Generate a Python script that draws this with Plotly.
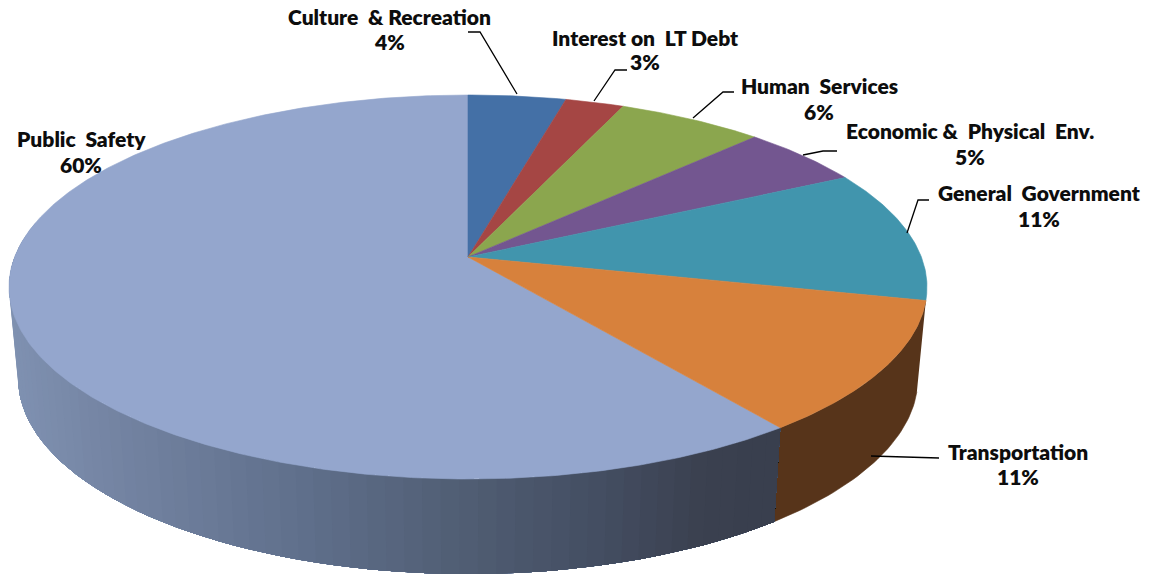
import numpy as np
import plotly.graph_objects as go

# ---- data ----
categories = ["Culture  &amp; Recreation", "Interest on  LT Debt", "Human  Services",
              "Economic &amp;  Physical  Env.", "General  Government", "Transportation", "Public  Safety"]
values = [4.0, 2.4, 6.0, 5.1, 11.1, 11.1, 60.3]
pct_labels = ["4%", "3%", "6%", "5%", "11%", "11%", "60%"]
top_colors = ["#4470a6", "#a54644", "#8ba64e", "#735690", "#4195ad", "#d7813c", "#94a6cd"]
transport_wall = "#57341a"
wall_stops_x = [10, 100, 300, 470, 600, 700, 780]
wall_stops_r = [128, 118, 96, 80, 68, 59, 57]
wall_stops_g = [146, 134, 112, 93, 78, 65, 63]
wall_stops_b = [178, 165, 140, 115, 98, 80, 78]

# ---- geometry of the perspective disc ----
K = 0.1563
TOP = dict(cx=468, cy=287, rx=459, ry=192)
BOT = dict(cx=468, cy=378, rx=450, ry=196)


def project(theta_deg, e):
    t = np.radians(theta_deg)
    u, v = np.sin(t), np.cos(t)
    d = 1 + K * v
    s = 1 - K ** 2
    return (e["cx"] + e["rx"] * np.sqrt(s) * u / d,
            e["cy"] - e["ry"] * K - e["ry"] * s * v / d)


cum = np.concatenate([[0], np.cumsum(values)]) / sum(values) * 360
fig = go.Figure()


def poly(x, y, color, lw=0.6):
    fig.add_trace(go.Scatter(x=x, y=y, mode="lines", fill="toself", fillcolor=color,
                             line=dict(color=color, width=lw), hoverinfo="skip", showlegend=False))


# side wall of Transportation
th = np.linspace(cum[5], cum[6], 40)
tx, ty = project(th, TOP)
bx, by = project(th, BOT)
poly(np.r_[tx, bx[::-1]], np.r_[ty, by[::-1]], transport_wall)

# side wall of Public Safety: overlapping shapes painted far end first, so bands have no seams
edges = np.arange(cum[6], 282, 2.0)
for k in range(len(edges) - 1, 0, -1):
    th = np.linspace(edges[0], edges[k], max(k + 1, 2))
    tx, ty = project(th, TOP)
    bx, by = project(th, BOT)
    mid = (tx[-2:].mean() + bx[-2:].mean()) / 2
    col = "rgb(%d,%d,%d)" % (np.interp(mid, wall_stops_x, wall_stops_r),
                             np.interp(mid, wall_stops_x, wall_stops_g),
                             np.interp(mid, wall_stops_x, wall_stops_b))
    poly(np.r_[tx, bx[::-1]], np.r_[ty, by[::-1]], col, lw=0)

# top face slices
ax0, ay0 = TOP["cx"], TOP["cy"] - TOP["ry"] * K
order = [6, 0, 1, 2, 3, 4, 5]
for i in order:
    n = max(int((cum[i + 1] - cum[i]) * 2), 8)
    x, y = project(np.linspace(cum[i], cum[i + 1], n), TOP)
    poly(np.r_[ax0, x, ax0], np.r_[ay0, y, ay0], top_colors[i])

# ---- labels: centre x, name y, percent y ----
label_pos = [(389, 16.5, 41.5), (645, 37.5, 61.5), (819, 85.5, 111.5), (970, 130.5, 156.5),
             (1039, 192.5, 218.5), (1018, 451.5, 476.5), (81, 138.5, 164.5)]
annotations = []
for name, pct, (lx, ny, py) in zip(categories, pct_labels, label_pos):
    for txt, yy in ((name, ny), (pct, py)):
        annotations.append(dict(x=lx, y=yy, xref="x", yref="y", text=txt, showarrow=False,
                                xanchor="center", yanchor="middle",
                                font=dict(family="Lato", size=21, color="#0d0d0d", weight=800)))

leaders = [
    [(468, 32), (480, 32), (517, 94)],
    [(627, 70), (615, 70), (594, 101)],
    [(734, 92), (723, 92), (693, 118)],
    [(837, 151), (823, 151), (803, 155)],
    [(929, 200), (918, 200), (907, 233)],
    [(939, 458), (871, 456)],
]
shapes = []
for pts in leaders:
    path = "M " + " L ".join(f"{a} {b}" for a, b in pts)
    shapes.append(dict(type="path", path=path, xref="x", yref="y",
                       line=dict(color="#000000", width=1.3)))

fig.update_layout(
    width=1153, height=577, margin=dict(l=0, r=0, t=0, b=0),
    paper_bgcolor="white", plot_bgcolor="white", showlegend=False,
    xaxis=dict(range=[0, 1153], visible=False, fixedrange=True),
    yaxis=dict(range=[577, 0], visible=False, fixedrange=True),
    annotations=annotations, shapes=shapes,
)
fig.write_html("out.html", config={"displayModeBar": False},
               post_script="document.body.style.margin='0';document.body.style.overflow='hidden';")
